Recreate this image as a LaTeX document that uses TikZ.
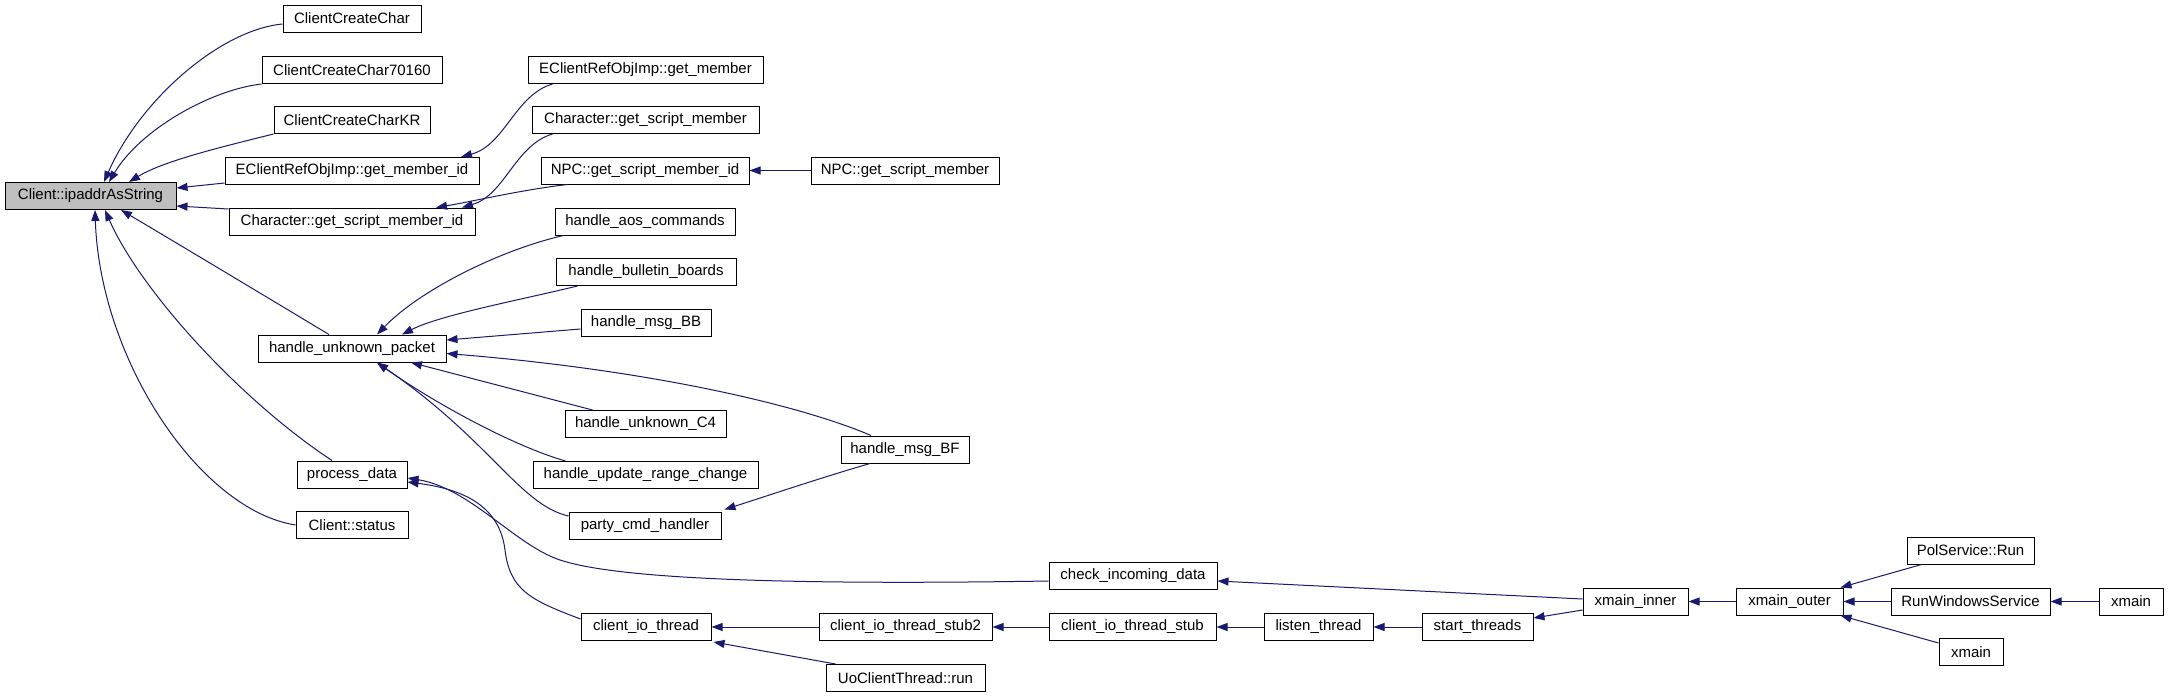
\documentclass[tikz,border=0pt]{standalone}
\usepackage{fontspec}
\setmainfont{Liberation Sans}
\usetikzlibrary{arrows.meta,calc}
\definecolor{edgeblue}{HTML}{191970}
\definecolor{rootgray}{HTML}{BFBFBF}
\begin{document}
\begin{tikzpicture}[x=1pt,y=-1pt,
  fn/.style={draw=black,line width=1pt,minimum height=27pt,inner sep=0pt,font=\fontsize{15}{18}\selectfont,fill=white},
  root/.style={fn,fill=rootgray},
  call/.style={draw=edgeblue,line width=1pt,-{Triangle[length=11pt,width=8pt]}}]
\useasboundingbox (0,0) rectangle (2168,696);
% column 1
\node[root,minimum width=171pt] (ip) at (90.5,196) {Client::ipaddrAsString};
% column 2
\node[fn,minimum width=138pt] (ccc) at (352,18.5) {ClientCreateChar};
\node[fn,minimum width=180pt] (ccc7) at (352,70) {ClientCreateChar70160};
\node[fn,minimum width=156pt] (ccck) at (352,120) {ClientCreateCharKR};
\node[fn,minimum width=254pt] (egmid) at (352,171) {EClientRefObjImp::get\_member\_id};
\node[fn,minimum width=246pt] (csmid) at (352,221.5) {Character::get\_script\_member\_id};
\node[fn,minimum width=188pt] (hup) at (352,348.5) {handle\_unknown\_packet};
\node[fn,minimum width=110pt] (pd) at (352,474.5) {process\_data};
\node[fn,minimum width=112pt] (cs) at (352,525) {Client::status};
% column 3
\node[fn,minimum width=235pt] (egm) at (645.5,70) {EClientRefObjImp::get\_member};
\node[fn,minimum width=227pt] (csm) at (645.5,120) {Character::get\_script\_member};
\node[fn,minimum width=208pt] (npcid) at (645,170.5) {NPC::get\_script\_member\_id};
\node[fn,minimum width=180pt] (haos) at (645,221.5) {handle\_aos\_commands};
\node[fn,minimum width=180pt] (hbb) at (646,272) {handle\_bulletin\_boards};
\node[fn,minimum width=130pt] (hmbb) at (646,322.5) {handle\_msg\_BB};
\node[fn,minimum width=161pt] (hc4) at (645.5,424) {handle\_unknown\_C4};
\node[fn,minimum width=225pt] (hurc) at (645.5,475) {handle\_update\_range\_change};
\node[fn,minimum width=152pt] (pch) at (645,525.5) {party\_cmd\_handler};
\node[fn,minimum width=130pt] (cit) at (646,627) {client\_io\_thread};
% column 4
\node[fn,minimum width=188pt] (npcm) at (905,170.5) {NPC::get\_script\_member};
\node[fn,minimum width=128pt] (hmbf) at (905,449.5) {handle\_msg\_BF};
\node[fn,minimum width=173pt] (cits2) at (905.5,627) {client\_io\_thread\_stub2};
\node[fn,minimum width=159pt] (uoc) at (905.5,678) {UoClientThread::run};
% right part
\node[fn,minimum width=168pt] (cid) at (1133,576) {check\_incoming\_data};
\node[fn,minimum width=167pt] (cits) at (1132.5,627) {client\_io\_thread\_stub};
\node[fn,minimum width=109pt] (lt) at (1318.5,627) {listen\_thread};
\node[fn,minimum width=111pt] (st) at (1477.5,627) {start\_threads};
\node[fn,minimum width=105pt] (xi) at (1635.5,601.5) {xmain\_inner};
\node[fn,minimum width=107pt] (xo) at (1789.5,601.5) {xmain\_outer};
\node[fn,minimum width=127pt] (psr) at (1970.5,550.5) {PolService::Run};
\node[fn,minimum width=159pt] (rws) at (1970.5,601.5) {RunWindowsService};
\node[fn,minimum width=64pt] (xm1) at (2131,601.5) {xmain};
\node[fn,minimum width=64pt] (xm2) at (1971,652) {xmain};
% edges into Client::ipaddrAsString
\draw[call] ($(ccc.west)+(0,5.5)$) .. controls (220,30) and (140,100) .. ($(ip.north)+(13.5,0)$);
\draw[call] (ccc7.south west) .. controls (210,90) and (140,130) .. ($(ip.north)+(18.5,0)$);
\draw[call] (ccck.south west) .. controls (230,145) and (165,160) .. ($(ip.north)+(38.5,0)$);
\draw[call] ($(egmid.west)+(0,12)$) -- ($(ip.east)+(0,-8)$);
\draw[call] ($(csmid.west)+(0,-12.5)$) -- ($(ip.east)+(0,10)$);
\draw[call] ($(hup.north)+(-23,0)$) .. controls (255,290) and (180,245) .. ($(ip.south)+(30.5,0)$);
\draw[call] ($(pd.north)+(-20,0)$) .. controls (240,400) and (140,290) .. ($(ip.south)+(14.5,0)$);
\draw[call] (cs.west) .. controls (200,510) and (100,360) .. ($(ip.south)+(4.5,0)$);
% second level
\draw[call] ($(egm.south west)+(25,0)$) .. controls (515,95) and (505,145) .. ($(egmid.north)+(109,0)$);
\draw[call] ($(csm.south west)+(21,0)$) .. controls (515,145) and (505,195) .. ($(csmid.north)+(110,0)$);
\draw[call] ($(npcid.south west)+(27,0)$) .. controls (520,190) and (470,202) .. ($(csmid.north)+(84,0)$);
\draw[call] (npcm.west) -- (npcid.east);
\draw[call] ($(haos.south west)+(9,0)$) .. controls (500,250) and (420,290) .. ($(hup.north)+(25,0)$);
\draw[call] ($(hbb.south west)+(22,0)$) .. controls (520,300) and (440,315) .. ($(hup.north)+(50,0)$);
\draw[call] ($(hmbb.west)+(0,6.5)$) -- ($(hup.east)+(0,-8.5)$);
\draw[call] ($(hmbf.north)+(-34,0)$) .. controls (800,405) and (650,370) .. ($(hup.east)+(0,5)$);
\draw[call] ($(hc4.north west)+(28,0)$) -- ($(hup.south)+(59,0)$);
\draw[call] ($(hurc.north west)+(33,0)$) .. controls (510,445) and (430,400) .. ($(hup.south)+(25,0)$);
\draw[call] ($(pch.west)+(0,-9.5)$) .. controls (520,505) and (490,440) .. ($(hup.south)+(25,0)$);
\draw[call] ($(hmbf.south)+(-35,0)$) .. controls (820,478) and (770,495) .. ($(pch.north east)+(3,-2)$);
\draw[call] ($(cid.west)+(0,5)$) .. controls (800,585) and (620,580) .. (560,560) .. controls (515,545) and (470,488) .. ($(pd.east)+(0,3.5)$);
\draw[call] ($(cit.west)+(0,-8)$) .. controls (530,600) and (510,590) .. (505,550) .. controls (500,510) and (470,490) .. ($(pd.east)+(0,7.5)$);
\draw[call] (cits2.west) -- (cit.east);
\draw[call] ($(uoc.north west)+(10,0)$) -- ($(cit.south east)+(2,1)$);
\draw[call] (cits.west) -- (cits2.east);
\draw[call] (lt.west) -- (cits.east);
\draw[call] (st.west) -- (lt.east);
\draw[call] ($(xi.west)+(0,-2.5)$) -- ($(cid.east)+(0,5)$);
\draw[call] ($(xi.west)+(0,8.5)$) -- ($(st.east)+(0,-9)$);
\draw[call] (xo.west) -- (xi.east);
\draw[call] ($(psr.south west)+(15,0)$) -- ($(xo.north east)+(-3,0)$);
\draw[call] (rws.west) -- (xo.east);
\draw[call] ($(xm2.west)+(0,-9)$) -- ($(xo.south east)+(-3,0)$);
\draw[call] (xm1.west) -- (rws.east);
\end{tikzpicture}
\end{document}
